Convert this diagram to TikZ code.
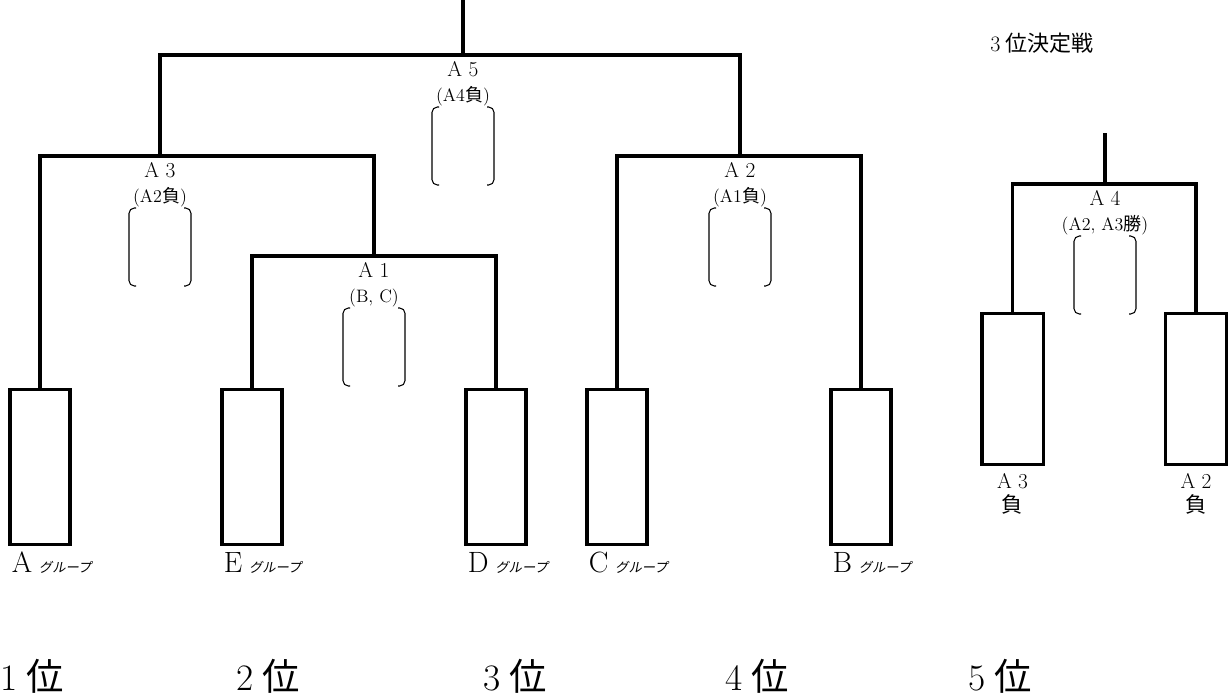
\documentclass[tikz,border=0pt]{standalone}
\usepackage{fontspec}
\newfontfamily\jp{Noto Sans CJK JP}
\newfontfamily\jpsl[FakeSlant=0.2]{Noto Sans CJK JP}
\usetikzlibrary{positioning}
\tikzset{
	tie/.style={line width=2.5pt},
	team/.style={draw,line width=2.5pt,inner sep=0pt,minimum width=45pt,minimum height=116pt},
	seed/.style={draw,line width=2.5pt,inner sep=0pt,minimum width=46pt,minimum height=113pt},
	paren/.style={line width=0.8pt,rounded corners=4pt},
	game/.style={inner sep=0pt,font=\fontsize{16}{16}\selectfont,anchor=base},
	cond/.style={inner sep=0pt,font=\fontsize{13.5}{13.5}\selectfont,anchor=base},
	grp/.style={inner sep=0pt,font=\fontsize{22}{22}\selectfont,anchor=base west},
	rank/.style={inner sep=0pt,font=\fontsize{28}{28}\selectfont,anchor=base west},
	}
% title, condition and empty score bracket under a junction
\def\gamelabel#1#2#3{%
  \path (#1) ++(0,21) node[game] (#1g) {#2} ++(0,25) node[cond] (#1c) {#3};
  \draw[paren] (#1) ++(-24,52) -- ++(-7,0) -- ++(0,78) -- ++(7,0);
  \draw[paren] (#1) ++(24,52) -- ++(7,0) -- ++(0,78) -- ++(-7,0);}
\begin{document}
\begin{tikzpicture}[x=0.75pt,y=-0.75pt]
\useasboundingbox (0,0) rectangle (1228,697);

\node[team,anchor=north] (teamA) at (40,388) {};
\node[team,anchor=north] (teamE) at (252,388) {};
\node[team,anchor=north] (teamD) at (496,388) {};
\node[team,anchor=north] (teamC) at (617,388) {};
\node[team,anchor=north] (teamB) at (861,388) {};

\coordinate (m1) at (374,256);
\coordinate (m2) at (740,156);
\coordinate (m3) at (160,156);
\coordinate (m5) at (463,55);
\coordinate (top) at (463,0);

\draw[tie] (teamE.north) |- (m1) -| (teamD.north);
\draw[tie] (teamA.north) |- (m3) -| (m1);
\draw[tie] (teamC.north) |- (m2) -| (teamB.north);
\draw[tie] (m3) |- (m5) -| (m2);
\draw[tie] (m5) -- (top);

\gamelabel{m5}{A 5}{(A4{\jp 負})}
\gamelabel{m3}{A 3}{(A2{\jp 負})}
\gamelabel{m1}{A 1}{(B, C)}
\gamelabel{m2}{A 2}{(A1{\jp 負})}

\foreach \g in {A,E,D,C,B}
  \node[grp] (lbl\g) at ([xshift=2.5pt,yshift=-19.5pt]team\g.south west) {\g\hspace{5pt}{\jpsl\fontsize{10}{10}\selectfont グループ}};

% 3rd place match
\node[inner sep=0pt,anchor=base west,font=\fontsize{16.5}{16.5}\selectfont] (third) at (990,51) {3\hspace{4pt}{\jp 位決定戦}};
\node[seed,anchor=north] (loser3) at (1012.5,312) {};
\node[seed,anchor=north] (loser2) at (1196,312) {};
\coordinate (m4) at (1105,184);
\coordinate (top4) at (1105,133);
\draw[tie] (loser3.north) |- (m4) -| (loser2.north);
\draw[tie] (m4) -- (top4);
\gamelabel{m4}{A 4}{(A2, A3{\jp 勝})}
\node[game] (l3a) at ([yshift=-16.5pt]loser3.south) {A 3};
\node[game] (l3b) at ([yshift=-35pt]loser3.south) {\jp 負};
\node[game] (l2a) at ([yshift=-16.5pt]loser2.south) {A 2};
\node[game] (l2b) at ([yshift=-35pt]loser2.south) {\jp 負};

\foreach \r/\x in {1/0,2/236,3/483,4/725,5/968}
  \node[rank] (rank\r) at (\x,690) {\r\hspace{7pt}{\jp 位}};
\end{tikzpicture}
\end{document}
